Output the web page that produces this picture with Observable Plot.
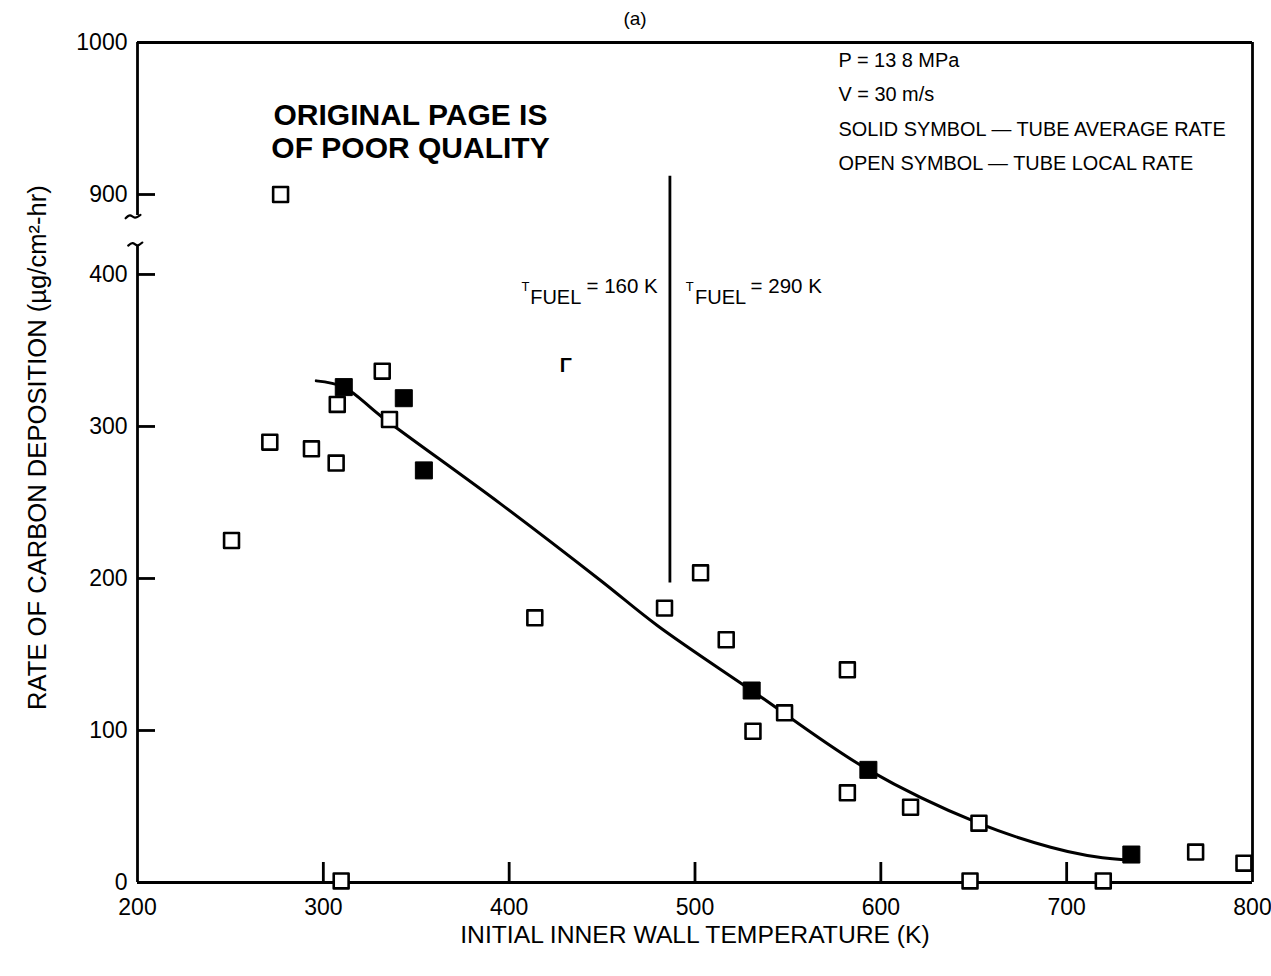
<!DOCTYPE html>
<html><head><meta charset="utf-8">
<script src="https://cdn.jsdelivr.net/npm/d3@7"></script>
<script src="https://cdn.jsdelivr.net/npm/@observablehq/plot@0.6"></script>
<style>
body{margin:0;background:#fff;}
svg{font-family:"Liberation Sans",Arial,Helvetica,sans-serif;}
</style>
</head><body><div id="chart"></div>
<script>
// ---- data ----
// open symbols: tube local rate
const openX = [250.6, 271.2, 277.0, 293.6, 306.9, 307.5, 309.6, 331.7, 335.6, 413.8, 483.6, 503.0, 516.8, 531.2, 548.2, 582.0, 582.0, 616.0, 648.0, 652.8, 719.7, 769.4, 795.4];
const openY = [225, 289.7, 900, 285.3, 275.9, 314.5, 1, 336.4, 304.6, 174.1, 180.5, 203.7, 159.7, 99.5, 111.6, 139.9, 59, 49.5, 1, 39, 1, 20, 12.7];
// solid symbols: tube average rate
const solidX = [311.0, 343.3, 354.1, 530.5, 593.3, 734.8];
const solidY = [325.9, 318.6, 271.1, 126.3, 74.1, 18.4];
// faired curve
const curveX = [296.2, 311.0, 331.7, 395.4, 449.2, 479.7, 530.5, 593.3, 652.6, 691.4, 711.1, 730.7];
const curveY = [330, 325.9, 306.1, 249.1, 198.7, 169.1, 126.3, 74.1, 39, 23.2, 17.8, 14.9];
// axis ticks
const xTicks = [200, 300, 400, 500, 600, 700, 800];
const yTicks = [0, 100, 200, 300, 400, 900, 1000];
const yTickLabels = ["0", "100", "200", "300", "400", "900", "1000"];
// fuel temperature divider
const dividerX = [486.5];
const dividerY1 = [197];
const dividerY2 = [912];
const fuelLabels = ["= 160 K", "= 290 K"];
const fuelLabelX = [441.6, 529.9];
const fuelTX = [406.6, 495.0];
const fuelSubX = [411.3, 500.0];
const legendLines = ["P = 13 8 MPa", "V = 30 m/s", "SOLID SYMBOL \u2014 TUBE AVERAGE RATE", "OPEN SYMBOL \u2014 TUBE LOCAL RATE"];
const stampLines = ["ORIGINAL PAGE IS", "OF POOR QUALITY"];
const xLabel = "INITIAL INNER WALL TEMPERATURE (K)";
const yLabel = "RATE OF CARBON DEPOSITION (\u00b5g/cm\u00b2-hr)";

// ---- broken y axis: values at/above 900 are shifted down next to 400 ----
const BREAK_LO = 400, BREAK_HI = 900, GAP = 52.6;
const yb = v => v >= BREAK_HI ? v - BREAK_HI + BREAK_LO + GAP : v;
const yTickPos = yTicks.map(yb);

const openPts = openX.map((x, i) => ({x, y: openY[i]}));
const solidPts = solidX.map((x, i) => ({x, y: solidY[i]}));
const curvePts = curveX.map((x, i) => ({x, y: curveY[i]}));
const divider = dividerX.map((x, i) => ({x, y1: dividerY1[i], y2: dividerY2[i]}));
const fuel = fuelLabels.map((t, i) => ({t, x: fuelLabelX[i], tx: fuelTX[i], sx: fuelSubX[i]}));

// left axis segments either side of the break
const leftAxis = [{y1: 0, y2: 419}, {y1: 438.8, y2: 1000}];
// little wavy break marks
const breakUpper = [{x: 193.6, y: 437.0}, {x: 196.0, y: 438.9}, {x: 198.6, y: 437.4}, {x: 201.6, y: 439.2}];
const breakLower = [{x: 195.0, y: 419.0}, {x: 197.4, y: 420.6}, {x: 200.0, y: 419.2}, {x: 202.6, y: 421.0}];

const F = "Liberation Sans, Arial, Helvetica, sans-serif";
const SW = 2.8;

const chart = Plot.plot({
  width: 1271,
  height: 976,
  marginLeft: 137,
  marginRight: 19,
  marginTop: 42,
  marginBottom: 94,
  style: {fontFamily: F, background: "white", color: "black", overflow: "visible"},
  x: {domain: [200, 800]},
  y: {domain: [0, yb(1000)]},
  marks: [
    // frame
    Plot.ruleY([0, 1000], {y: yb, x1: 200, x2: 800, strokeWidth: SW}),
    Plot.ruleX([800], {x: d => d, y1: 0, y2: yb(1000), strokeWidth: SW}),
    Plot.ruleX(leftAxis, {x: 200, y1: d => yb(d.y1), y2: d => yb(d.y2), strokeWidth: SW}),
    Plot.line(breakUpper, {x: "x", y: "y", curve: "natural", strokeWidth: 2.2}),
    Plot.line(breakLower, {x: "x", y: "y", curve: "natural", strokeWidth: 2.2}),
    // inward ticks
    Plot.tickX(xTicks.slice(1, -1), {x: d => d, insetTop: 820, strokeWidth: SW}),
    Plot.tickY(yTicks.slice(1, -1), {y: yb, insetRight: 1097, strokeWidth: SW}),
    // tick labels
    Plot.axisX(xTicks, {tickSize: 0, tickPadding: 16, fontSize: 23, label: null}),
    Plot.axisY(yTickPos, {tickSize: 0, tickPadding: 10, fontSize: 23, label: null,
      tickFormat: d => yTickLabels[yTickPos.indexOf(d)]}),
    // axis titles
    Plot.text([xLabel], {frameAnchor: "bottom", dy: 53, fontSize: 24.7, text: d => d, textAnchor: "middle", lineAnchor: "middle"}),
    Plot.text([yLabel], {frameAnchor: "left", dx: -100, dy: -15, rotate: -90, fontSize: 25.6, text: d => d, textAnchor: "middle", lineAnchor: "middle"}),
    Plot.text(["(a)"], {frameAnchor: "top", dx: -60, dy: -24, fontSize: 19, text: d => d, textAnchor: "middle", lineAnchor: "middle"}),
    // divider between fuel temperatures
    Plot.ruleX(divider, {x: "x", y1: d => yb(d.y1), y2: d => yb(d.y2), strokeWidth: SW}),
    Plot.text(fuel, {x: "tx", y: 389, text: () => "T", fontSize: 13, textAnchor: "start", lineAnchor: "bottom"}),
    Plot.text(fuel, {x: "sx", y: 380.3, text: () => "FUEL", fontSize: 20, textAnchor: "start", lineAnchor: "bottom"}),
    Plot.text(fuel, {x: "x", y: 387.5, text: "t", fontSize: 20.5, textAnchor: "start", lineAnchor: "bottom"}),
    Plot.text(["\u0393"], {x: 430.4, y: 340, text: d => d, fontSize: 20, fontWeight: "bold"}),
    // faired curve
    Plot.line(curvePts, {x: "x", y: d => yb(d.y), curve: "catmull-rom", strokeWidth: 3}),
    // data symbols
    Plot.dot(openPts, {x: "x", y: d => yb(d.y), symbol: "square", r: 8.4, fill: "white", stroke: "black", strokeWidth: 2.6, strokeLinejoin: "round"}),
    Plot.dot(solidPts, {x: "x", y: d => yb(d.y), symbol: "square", r: 9.6, fill: "black", stroke: "black", strokeWidth: 1}),
    // legend notes
    ...legendLines.map((t, i) => Plot.text([t], {frameAnchor: "top-left", dx: 701, dy: 18 + i * 34.4, text: d => d, fontSize: 19.9, textAnchor: "start", lineAnchor: "middle"})),
    // stamp
    ...stampLines.map((t, i) => Plot.text([t], {frameAnchor: "top-left", dx: 273, dy: 73 + i * 33, text: d => d, fontSize: 30, fontWeight: "bold", textAnchor: "middle", lineAnchor: "middle"}))
  ]
});
document.getElementById("chart").appendChild(chart);
</script>
</body></html>
